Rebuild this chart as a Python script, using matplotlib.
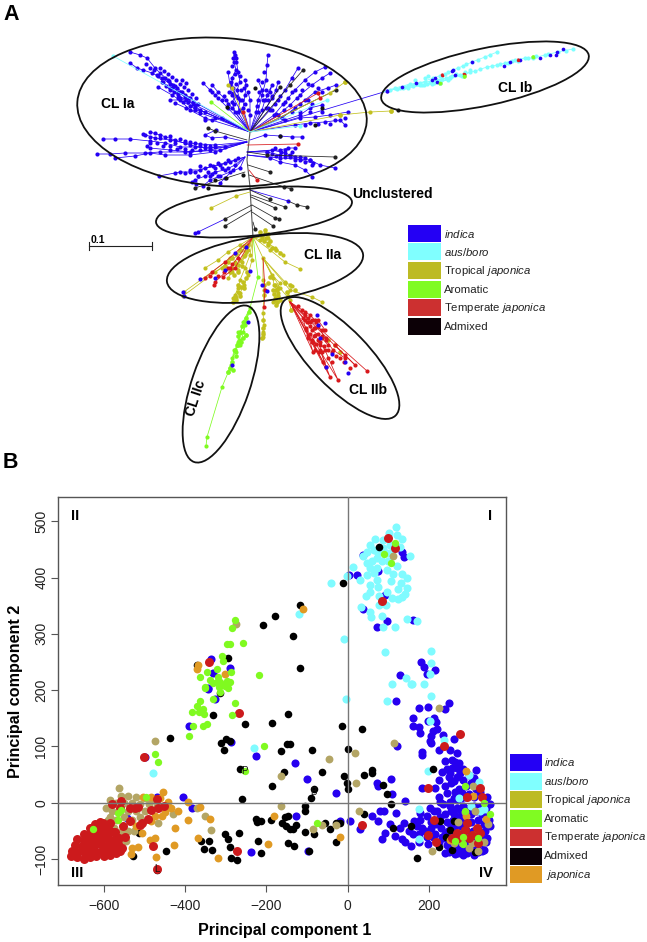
import matplotlib
matplotlib.use("Agg")
import matplotlib.pyplot as plt
from matplotlib.patches import Ellipse, Rectangle

plt.rcParams['font.family'] = ['Liberation Sans', 'DejaVu Sans']
plt.rcParams['mathtext.fontset'] = 'custom'
plt.rcParams['mathtext.rm'] = 'Liberation Sans'
plt.rcParams['mathtext.it'] = 'Liberation Sans:italic'

# colours
c_blue = '#2400f4'
c_cyan = '#80ffff'
c_yellow = '#c2c01e'
c_lime = '#7ffb20'
c_red = '#d8181c'

# ---- panel A: tree in image pixels ----
trunk = [(250, 132), (248, 150), (247, 160), (250, 187), (251, 205), (253, 237)]

tree_blue = [
    [(250,132),(198,104),(190,98),(182,92),(175,86),(168,80),(160,73),(155,68),(147,58),(140,55),(130,52)],
    [(250,132),(195,105),(185,97),(178,92),(170,84),(162,78),(152,73),(143,70),(137,68),(130,63)],
    [(250,132),(200,110),(193,104),(186,100),(178,95),(170,90),(163,82),(157,75)],
    [(250,132),(205,112),(195,110),(188,102),(180,98),(172,88)],
    [(250,132),(195,108),(183,102),(172,95),(158,87)],
    [(250,132),(205,118),(190,110),(180,100),(170,100)],
    [(250,132),(215,118),(200,113),(186,108),(175,103)],
    [(250,132),(228,108),(218,98),(210,90),(203,83)],
    [(250,132),(232,108),(226,100),(218,92),(212,85)],
    [(250,132),(222,118),(212,120),(205,120)],
    [(250,132),(235,112),(232,102),(236,96),(233,88),(232,78),(236,70),(234,62),(234,52)],
    [(250,132),(238,112),(240,100),(237,90),(240,82),(238,72),(236,58),(235,55)],
    [(250,132),(240,110),(232,95),(230,85),(228,72)],
    [(250,132),(243,108),(245,95),(246,85),(245,80)],
    [(250,132),(250,115),(250,100),(248,92)],
    [(250,132),(258,112),(262,95),(266,80),(267,65),(268,55)],
    [(250,132),(256,112),(258,100),(262,90),(258,80)],
    [(250,132),(262,110),(265,100),(270,92),(272,85),(267,95)],
    [(250,132),(266,108),(272,98),(276,90),(278,82)],
    [(250,132),(270,110),(278,100),(285,90),(292,78),(298,68)],
    [(250,132),(274,115),(285,102),(295,90),(305,80),(315,72),(325,67)],
    [(250,132),(278,115),(290,105),(300,95),(312,85),(322,78),(330,73)],
    [(250,132),(282,118),(295,108),(305,100),(315,92),(328,88),(336,85)],
    [(250,132),(285,120),(300,115),(310,108),(322,105)],
    [(250,132),(295,125),(310,123),(325,122),(340,120),(345,125)],
    [(250,132),(300,118),(315,117),(330,115),(348,112)],
    [(250,132),(387,91)],
    [(247,142),(225,147),(205,148),(190,145),(175,140),(160,135),(150,132)],
    [(247,142),(215,145),(200,144),(185,143),(170,140),(155,138),(143,134)],
    [(247,142),(210,148),(195,147),(180,147),(165,143),(150,141),(130,139),(115,139),(103,139)],
    [(247,142),(220,150),(190,152),(170,150),(150,148),(147,146)],
    [(247,142),(210,150),(185,152),(160,152),(145,153),(125,153),(110,154),(97,154)],
    [(247,142),(215,152),(190,155),(165,155),(150,153),(135,156),(115,158)],
    [(247,142),(225,137),(212,138),(205,135),(216,130)],
    [(245,157),(230,162),(220,165),(205,168),(195,172),(180,172),(175,173),(159,176)],
    [(245,157),(235,160),(225,163),(213,166),(200,170),(190,170)],
    [(245,157),(235,165),(225,170),(215,172),(205,176),(195,180),(192,182)],
    [(245,157),(240,168),(230,172),(220,176),(210,180),(203,186)],
    [(245,157),(233,170),(225,178),(220,183)],
    [(250,140),(265,135),(280,136),(292,137),(302,137)],
    [(247,152),(267,152),(280,155),(290,157),(300,160),(313,163)],
    [(247,152),(272,150),(285,153),(295,157),(305,158)],
    [(247,155),(270,158),(280,162),(295,165),(305,170),(312,177)],
    [(247,152),(280,150),(288,148),(295,148)],
    [(247,155),(280,158),(310,160),(320,165),(335,168)],
    [(250,190),(288,201)],
    [(225,219),(198,232),(195,233)],
]
tree_black = [
    [(250,132),(290,85),(303,70)],
    [(250,132),(280,87)],
    [(250,132),(336,90)],
    [(247,140),(215,131),(208,128)],
    [(247,152),(267,155),(335,157)],
    [(248,165),(270,172)],
    [(249,175),(284,187),(291,189)],
    [(245,172),(195,188)],
    [(250,190),(270,199)],
    [(251,195),(285,207)],
    [(251,197),(275,208)],
    [(288,201),(297,205),(307,207)],
    [(252,205),(275,218),(279,219)],
    [(252,212),(273,226)],
    [(253,222),(255,229)],
    [(252,210),(225,226)],
    [(252,205),(225,219)],
]
tree_yellow = [
    [(250,132),(330,93),(345,82)],
    [(250,132),(340,115),(370,112),(391,111)],
    [(250,192),(236,196),(211,208)],
    [(250,132),(232,88),(228,85)],
    [(253,237),(240,245),(228,252),(218,260),(205,268)],
    [(253,237),(240,250),(230,258),(222,268),(215,272)],
    [(253,237),(245,255),(238,265),(232,272),(228,278)],
    [(253,237),(248,250),(242,262),(238,270),(235,262)],
    [(253,237),(250,255),(245,268),(240,280),(238,288),(235,295),(233,298)],
    [(253,237),(252,260),(248,275),(244,285),(240,293),(236,298)],
    [(253,237),(260,240),(268,243),(275,248),(283,255)],
    [(253,237),(262,238),(265,233),(268,238)],
    [(253,237),(270,250),(285,262),(300,269)],
    [(253,237),(263,258),(272,275),(280,283),(276,290),(275,298),(277,302)],
    [(263,258),(273,278),(274,285),(278,293),(273,302)],
    [(263,258),(285,282),(292,286),(288,296)],
    [(263,258),(290,290),(312,297),(322,302)],
    [(263,258),(280,288),(290,300)],
    [(263,258),(263,280),(264,290),(263,313),(264,325),(263,332),(263,337)],
    [(289,300),(291,310)],
    [(245,248),(184,292)],
    [(245,250),(183,296)],
]
tree_red = [
    [(250,132),(318,93),(320,98)],
    [(250,132),(243,112)],
    [(247,145),(298,144)],
    [(249,170),(257,180)],
    [(253,237),(230,268),(215,282),(214,285)],
    [(253,237),(225,262),(212,272),(205,278)],
    [(253,237),(235,268),(223,277)],
    [(263,258),(265,290),(264,307)],
    [(290,302),(367,371)],
    [(290,302),(355,365),(345,355),(335,345)],
    [(290,302),(338,380),(325,350),(315,335)],
    [(290,302),(330,377),(320,350)],
    [(290,302),(326,367),(318,340)],
    [(290,302),(323,362),(312,340)],
    [(290,302),(313,352),(308,335)],
    [(290,302),(305,315),(310,322),(318,320),(325,330),(315,328)],
    [(290,302),(307,322),(312,330),(322,338),(328,345)],
    [(290,302),(303,318),(306,330),(313,342),(320,345)],
    [(290,302),(310,315),(315,320),(326,340),(333,350),(345,358)],
]
tree_lime = [
    [(253,237),(258,277),(250,308),(240,333),(230,368),(222,387),(207,437),(206,446)],
    [(250,308),(245,325),(243,332),(246,335),(240,340),(238,332)],
    [(250,308),(243,322),(238,342),(236,352),(232,358)],
    [(250,308),(240,345),(234,350),(231,365),(228,372)],
    [(250,132),(211,102)],
]
tree_cyan = [
    [(250,132),(113,56)],
    [(250,132),(327,100)],
    [(250,132),(300,126)],
    [(383,92),(395,88),(410,84),(420,83),(433,78),(445,74),(453,70),(463,66),(472,62),(485,57),(497,52)],
    [(383,92),(400,88),(415,84),(425,82),(440,80),(450,77),(460,75),(475,71),(487,67),(497,65),(505,63),(515,60),(525,58),(533,58),(545,55),(558,52),(573,49)],
    [(383,92),(405,87),(420,85),(432,84),(440,83),(450,78),(462,76),(470,72)],
    [(395,90),(408,88),(424,85),(435,82),(448,80)],
]

# dense clumps on the branches, no lines of their own
blob_blue = [(160,68),(164,71),(168,74),(172,77),(176,80),(180,84),(184,87),(188,90),(192,94),(196,98),
    (165,78),(169,81),(173,85),(177,88),(181,92),(185,95),(189,98),(193,102),(158,76),(162,82),
    (166,86),(170,88),(174,92),(178,98),(150,68),(146,64),(154,70),(182,80),(186,83),(190,106),
    (145,135),(150,137),(155,133),(160,138),(165,137),(170,136),(175,143),(180,139),(185,141),(190,142),
    (195,143),(200,146),(205,145),(210,146),(215,147),(150,143),(157,143),(163,146),(170,146),(177,149),
    (185,149),(192,150),(200,150),
    (233,58),(236,62),(232,66),(235,74),(231,82),(236,84),(233,93),(238,98),(234,104),(229,92),
    (224,96),(240,76),(241,90),(242,100),(228,104),(222,100),(215,95),(212,92),(245,104),(248,110),(244,88),
    (264,72),(262,82),(259,92),(263,100),(257,106),(268,100),(272,96),(266,90),(275,104),(268,108),
    (280,96),(283,104),(272,110),(288,98),(292,92),(276,114),(297,98),(302,90),(308,84),(300,104),
    (308,100),(284,110),(292,112),(318,88),(322,92),(312,104),(300,112),(310,112),(322,112),(335,120),
    (330,124),(318,124),(305,125),(345,118),
    (200,166),(210,165),(218,163),(228,160),(238,158),(208,172),(215,168),(222,168),(190,172),(198,176),
    (185,173),(210,176),(218,176),(228,168),(196,184),(212,174),
    (267,152),(272,154),(276,156),(281,152),(285,157),(290,155),(295,160),(300,157),(305,162),(310,160),
    (285,150),(292,152),(275,148),(312,165)]
blob_cyan = [(390,90),(397,89),(403,88),(408,86),(413,86),(418,84),(422,85),(427,84),(430,82),(434,83),
    (437,80),(442,79),(446,78),(452,76),(456,74),(465,72),(470,70),(480,69),(492,66),(500,64),
    (508,63),(512,61),(518,61),(528,58),(536,56),(548,54),(566,51),(415,80),(425,78),(428,76),
    (440,76),(448,72),(458,68),(466,64),(478,60),(490,55)]
blob_blue_ib = [(387,91),(402,87),(416,83),(432,80),(435,78),(453,70),(472,62),(455,75),(504,66),(510,62),
    (540,58),(550,55),(556,55),(557,52),(563,49),(437,82),(452,71),(520,60)]
blob_blue_ii = [(183,292),(184,296),(200,279),(235,253),(246,247),(225,270),(215,278),(267,291),(262,285),(250,271),
    (317,315),(325,323),(318,325),(320,338),(332,354),(326,367),(348,373),(345,362),(248,322),(232,365)]
blob_yellow = [(225,266),(228,262),(232,258),(236,254),(240,250),(244,246),(232,268),(236,264),(240,260),(244,256),
    (230,272),(234,275),(238,272),(246,252),(242,266),(248,245),
    (246,278),(243,282),(241,287),(238,292),(235,297),(244,288),(240,296),(236,300),(238,285),(247,272),(233,302),
    (262,236),(266,238),(270,241),(268,245),(272,248),(276,250),(280,253),(264,241),(260,232),(265,230),(268,234),
    (275,285),(277,290),(274,294),(278,296),(275,300),(276,305),(278,288),(280,300),(273,290),(277,302),
    (285,283),(290,285),(295,290),(287,292),(263,320),(263,328),(263,334),(262,338),(264,285),(264,295),
    (270,277),(268,283),(291,310),(345,82),(391,111),(340,115),(335,345),(340,352),(328,340)]
blob_red = [(305,320),(308,318),(312,320),(316,322),(310,326),(314,328),(318,326),(322,330),(306,328),(310,334),
    (314,336),(318,334),(322,336),(326,338),(312,342),(316,344),(320,342),(324,346),(328,350),(332,352),
    (336,356),(340,358),(344,362),(350,368),(308,338),(315,350),(319,352),(322,352),(328,358),(332,362),
    (298,306),(302,310),(305,312),(218,276),(224,272),(232,264),(238,258),(210,276),(228,268),(442,75),(464,74),(518,60)]
blob_lime = [(249,312),(246,318),(244,322),(242,326),(240,332),(243,338),(246,335),(238,336),(241,342),(237,345),
    (235,350),(236,356),(232,362),(230,368),(228,372),(233,370),(238,345),(440,83),(533,57),(464,76)]
blob_black = [(398,110),(227,107),(255,88),(280,136),(315,125),(322,108),(243,175),(226,178),(215,180),(208,188)]

# cluster ellipses: centre x, centre y, long, short, angle
ell_cx = [222, 485, 254, 265, 221, 340]
ell_cy = [112, 77, 212, 268, 384, 358]
ell_w = [290, 212, 197, 198, 165, 160]
ell_h = [148, 57, 47, 65, 58, 58]
ell_ang = [4, -12, -6, -8, -71, 46]

legend_a = ['$\\mathit{indica}$', '$\\mathit{aus/boro}$', 'Tropical $\\mathit{japonica}$', 'Aromatic',
            'Temperate $\\mathit{japonica}$', 'Admixed']
legend_colors = ['#2400f4', '#80ffff', '#bdbb24', '#80fb22', '#cc3030', '#0c0006']

# ---- panel B: PCA scores ----
pc_blue = [(120,181),(175,169),(198,170),(241,167),(249,178),(162,150),(161,137),(175,134),(179,124),(197,146),
    (213,150),(217,144),(220,131),(210,127),(205,119),(236,121),(202,109),(205,106),(261,114),(121,101),
    (183,91),(183,84),(225,93),(253,93),(269,88),(257,76),(265,73),(244,60),(269,61),(253,53),
    (277,53),(317,59),(310,44),(224,41),(261,38),(285,41),(182,26),(216,26),(73,35),(74,29),
    (106,43),(109,15),(142,4),(81,-14),(90,-15),(120,-19),(59,-24),(5,-33),(76,-32),(31,-46),
    (105,-37),(92,-53),(85,-65),(117,-59),(133,-64),(142,-70),(156,-76),(198,-73),(138,-36),(129,-45),
    (164,-33),(179,-30),(172,-41),(183,-45),(202,-9),(179,-18),(195,-24),(212,-15),(226,11),(244,17),
    (265,20),(228,2),(236,-3),(253,2),(269,5),(281,17),(310,11),(326,20),(343,11),(351,-3),
    (347,-30),(351,-42),(343,-63),(335,-83),(310,-92),(285,-92),(265,-91),(240,-89),
    (240,-20),(255,-15),(270,-10),(285,-5),(300,-10),(315,-15),(330,-20),(340,-10),(245,-35),(260,-30),
    (275,-25),(290,-30),(305,-35),(320,-30),(335,-38),(230,-45),(248,-50),(262,-45),(278,-42),(292,-48),
    (308,-50),(322,-45),(338,-50),(215,-55),(232,-60),(250,-62),(265,-58),(280,-55),(295,-62),(310,-65),
    (328,-60),(340,-70),(225,-70),(245,-75),(258,-72),(272,-78),(288,-75),(302,-80),(318,-78),(332,-72),
    (250,-88),(272,-90),(295,-90),(320,-88),(205,-35),(190,-50),(175,-55),(160,-55),(150,-50),(220,-15),
    (205,-45),(195,-60),(175,-70),(210,-60),(300,15),(315,25),(290,10),(275,25),(255,35),(240,30),
    (290,-20),(305,-20),(270,-35),(285,-65),
    (252,-5),(262,-20),(278,-15),(295,-15),(312,-5),(325,-8),(342,-25),(228,-25),(218,-38),(240,-55),
    (255,-42),(268,-68),(282,-85),(300,-70),(315,-55),(330,-85),(238,-62),(252,-80),(262,8),(278,8),
    (292,30),(305,35),(270,45),(285,60),(300,50),(258,62),(240,75),(250,45),(232,55),(275,70),
    (23,404),(4,404),(134,446),(139,436),(37,440),(76,411),(92,369),(39,344),(72,313),(98,322),
    (162,324),(180,250),(187,242),(214,236),(195,229),(128,227),
    (-336,255),(-290,240),(-332,230),(-343,204),(-343,202),(-327,184),(-391,137),(-288,108),(-226,83),(-129,70),
    (-101,43),(-28,18),(-405,11),(-470,11),(-384,-9),(-128,-24),(-238,-88),(-97,-85),(-499,81),(-19,-33),(-544,-27)]
pc_cyan = [(118,489),(102,479),(121,476),(134,468),(67,468),(55,457),(88,467),(105,458),(130,455),(47,446),
    (64,449),(39,438),(96,444),(154,439),(72,435),(47,425),(84,429),(121,421),(55,417),(96,414),
    (64,408),(13,419),(-2,403),(47,405),(31,396),(111,407),(134,407),(72,396),(106,393),(146,400),
    (132,390),(147,382),(76,384),(54,387),(123,380),(55,375),(46,367),(97,375),(142,371),(134,365),
    (109,364),(125,362),(78,368),(95,352),(78,352),(32,348),(55,338),(57,330),(85,332),(147,326),
    (170,322),(86,313),(116,313),(-42,390),(-119,335),(-10,290),(92,267),(205,270),(206,248),(203,229),
    (145,222),(110,211),(158,211),(187,211),(88,452),(76,444),(113,449),(60,429),(72,417),(100,430),
    (-231,98),(-479,53),(157,211),(205,189),(97,181),(-4,185),(203,146),(238,112),(198,57),(300,50),
    (324,37),(275,9),(304,-6),(326,-15),(336,-11),(175,-11),(177,-64)]
pc_black = [(-437,115),(-331,156),(-253,140),(-185,142),(-146,158),(-299,113),(-290,109),(-312,106),(-304,94),(-150,104),
    (-142,104),(-164,92),(-87,94),(-14,137),(-265,60),(-156,55),(-63,54),(-185,30),(-83,24),(-91,8),
    (-259,7),(-105,-6),(-105,-14),(-226,-28),(-224,-35),(-212,-33),(-189,-31),(-154,-25),(-146,-24),(-162,-36),
    (-152,-42),(-142,-46),(-127,-39),(-134,-46),(-55,-36),(-43,-46),(-28,-36),(-105,-52),(-83,-56),(-29,-69),
    (-267,-54),(-302,-55),(-295,-64),(-361,-68),(-342,-68),(-290,-78),(-353,-82),(-334,-84),(-220,-68),(-146,-71),
    (-131,-76),(-213,-89),(-94,-85),(-286,-98),(-273,-101),(-448,-86),(-528,-94),(-514,-54),(-469,-119),
    (35,131),(2,96),(61,59),(61,53),(41,50),(-10,47),(-2,35),(2,24),(87,31),(97,15),
    (106,-3),(41,-20),(-18,-36),(111,-44),(156,-41),(228,-32),(261,-33),(253,-48),(243,-61),(224,-78),
    (257,-83),(313,-87),(171,-98),(210,60),(78,455),(-12,390),(-118,352),(-178,332),(-209,316),(-134,296),
    (-295,257),(-116,239),(-372,245),(-314,195)]
pc_tan = [(-473,109),(-564,26),(-164,47),(-46,78),(-164,-5),(-351,-24),(-336,-48),(-372,-9),(-429,-20),(-468,-36),
    (-84,-47),(-62,-39),(-29,-40),(-557,12),(-540,12),(-520,10),(-500,8),(-480,5),(-570,0),(-550,0),
    (-530,0),(-510,-2),(-490,-3),(-470,-5),(-580,-15),(-560,-15),(-540,-15),(-520,-15),(-500,-15),(-590,-30),
    (-570,-30),(-550,-25),(-530,-30),(-510,-25),(-585,-25),(-575,-45),(-555,-50),(-540,-50),(-565,-60),(-545,-68),
    (-555,-70),(-525,-50),(-595,-10),(-585,5),
    (-275,318),(112,438),(225,169),(115,106),(18,88),(21,35),(28,-14),(207,-85),(309,30),(314,-14),
    (290,-17),(273,-34),(345,-38),(261,-72),(298,-80),(322,-85),(306,-72),(335,-70),(281,-72)]
pc_orange = [(-454,20),(-442,2),(-392,2),(-462,8),(-484,10),(-503,11),(-364,-8),(-339,-28),(-392,-31),(-417,-14),
    (-436,-9),(-458,-24),(-474,-24),(-450,-17),(-483,-33),(-426,-44),(-520,-41),(-505,-53),(-368,-62),(-473,-62),
    (-487,-66),(-427,-75),(-515,-78),(-532,-81),(-534,-91),(-471,-96),(-319,-98),(-196,-73),(-180,-23),
    (-109,344),(-368,245),(-302,229),(-372,237),(292,56),(308,12),(340,-28),(292,-24),(-18,-60),(253,-66),(318,-51)]
pc_red = [(99,470),(117,452),(85,359),(-341,250),(-267,159),(-501,81),(-272,-86),(-469,-118),(-478,-76),
    (-581,-3),(-557,3),(-561,-9),(-536,-9),(-524,-9),(-515,-8),(-470,7),(-483,-12),(-466,-9),(-452,-6),
    (-491,-28),(-507,-36),(-536,-33),(-552,-42),(-573,-51),(-548,-60),(-511,-39),(-585,-36),(-602,-36),
    (-680,-95),(-665,-97),(-650,-99),(-635,-97),(-620,-95),(-600,-95),(-585,-93),(-570,-90),
    (-678,-85),(-665,-87),(-650,-88),(-635,-86),(-620,-87),(-605,-85),(-590,-85),(-575,-84),(-560,-85),(-555,-80),
    (-670,-75),(-655,-76),(-640,-75),(-625,-76),(-610,-74),(-595,-76),(-580,-74),(-565,-73),
    (-665,-65),(-650,-66),(-635,-64),(-620,-66),(-605,-65),(-590,-64),(-575,-66),(-562,-62),
    (-650,-55),(-635,-55),(-620,-54),(-605,-56),(-590,-55),(-578,-52),
    (-635,-45),(-620,-44),(-605,-46),(-590,-44),(-610,-34),(-622,-38),
    (276,123),(237,100),(199,26),(327,26),(295,11),(332,11),(213,-30),(35,-40),(199,-57),(218,-70),
    (294,-36),(269,-53),(290,-48),(306,-57),(327,-54),(321,-72),(298,-63),(257,-63),(318,-45),(277,-63)]
pc_green = [(-351,204),(-363,180),(-332,184),(-276,178),(-372,171),(-383,162),(-365,162),(-355,166),(-354,158),(-285,155),
    (-380,136),(-347,140),(-355,136),(-391,118),(-207,100),(-474,86),(-466,72),(-497,11),(-558,-12),(-566,-18),
    (-566,-31),(-628,-46),(-253,56),(-76,-36),(-276,325),(-284,310),(-298,282),(-290,282),(-257,284),(-310,260),
    (-306,251),(-321,237),(-347,232),(-363,223),(-288,232),(-218,227),(-339,218),(-331,213),(-318,224),(-314,214),
    (-298,216),(-290,214),(-351,205),(-316,205),(-302,207),(-322,215),(-310,210),(-294,214),(-294,204),(-314,196),
    (117,462),(90,441),(108,425),(288,30),(335,-1),(351,-20),(290,-15),(285,-60),(265,-67),(283,-73),(322,-63)]

xticks = [-600, -400, -200, 0, 200]
yticks = [-100, 0, 100, 200, 300, 400, 500]
legend_b = legend_a + [' $\\mathit{japonica}$']
legend_b_colors = legend_colors + ['#e09a24']


def draw_tree(ax, branches, color, z):
    for br in branches:
        xs = [p[0] for p in br]
        ys = [p[1] for p in br]
        ax.plot(xs, ys, color=color, lw=0.55, zorder=z, solid_capstyle='round')
        ax.scatter(xs[1:], ys[1:], s=9, color=color, lw=0, zorder=z + 0.1)


def draw_blob(ax, pts, color, z, size=9):
    ax.scatter([p[0] for p in pts], [p[1] for p in pts], s=size, color=color, lw=0, zorder=z)


W, H = 647, 942
fig = plt.figure(figsize=(W / 100, H / 100), dpi=100)

# whole-figure axes in image pixels for panel A and the letters
a = fig.add_axes([0, 0, 1, 1])
a.set_xlim(0, W)
a.set_ylim(H, 0)
a.axis('off')

a.plot([p[0] for p in trunk], [p[1] for p in trunk], color='#555555', lw=0.8, zorder=1)
draw_tree(a, tree_blue, c_blue, 2)
draw_blob(a, blob_blue, c_blue, 2.1)
draw_tree(a, tree_black, '#222222', 2.2)
draw_blob(a, blob_black, '#111111', 2.3)
draw_tree(a, tree_yellow, c_yellow, 2.4)
draw_blob(a, blob_yellow, c_yellow, 2.5, size=11)
draw_tree(a, tree_red, c_red, 2.6)
draw_blob(a, blob_red, c_red, 2.7)
draw_tree(a, tree_lime, c_lime, 2.8)
draw_blob(a, blob_lime, c_lime, 2.9, size=11)
draw_tree(a, tree_cyan, c_cyan, 3)
draw_blob(a, blob_cyan, c_cyan, 3.1)
draw_blob(a, blob_blue_ib, c_blue, 3.2, size=7)
draw_blob(a, blob_blue_ii, c_blue, 3.2)
draw_blob(a, blob_red[-3:], c_red, 3.3, size=6)
draw_blob(a, blob_lime[-3:], c_lime, 3.3, size=7)

for cx, cy, w, h, ang in zip(ell_cx, ell_cy, ell_w, ell_h, ell_ang):
    a.add_patch(Ellipse((cx, cy), w, h, angle=ang, fill=False, ec='#111111', lw=1.3, zorder=5))

a.text(3, 14, 'A', fontsize=15.5, fontweight='bold', va='center')
a.text(3, 463, 'B', fontsize=15.5, fontweight='bold', va='center')
a.text(118, 104, 'CL Ia', fontsize=10, fontweight='bold', ha='center', va='center')
a.text(515, 88, 'CL Ib', fontsize=10, fontweight='bold', ha='center', va='center')
a.text(392, 194, 'Unclustered', fontsize=10, fontweight='bold', ha='center', va='center')
a.text(323, 255, 'CL IIa', fontsize=10, fontweight='bold', ha='center', va='center')
a.text(368, 390, 'CL IIb', fontsize=10, fontweight='bold', ha='center', va='center')
a.text(196, 398, 'CL IIc', fontsize=10, fontweight='bold', ha='center', va='center', rotation=72)

# scale bar
a.plot([89, 152], [246, 246], color='#222222', lw=0.8)
a.plot([89, 89], [242, 250], color='#222222', lw=0.8)
a.plot([152, 152], [242, 250], color='#222222', lw=0.8)
a.text(98, 240, '0.1', fontsize=7.5, fontweight='bold', ha='center', va='center')

# legends
for i, (lab, col) in enumerate(zip(legend_a, legend_colors)):
    y0 = 224.5 + i * 18.7
    a.add_patch(Rectangle((408, y0), 33, 17, fc=col, ec='none'))
    a.text(444, y0 + 9, lab, fontsize=8.2, va='center', color='#222222')
for i, (lab, col) in enumerate(zip(legend_b, legend_b_colors)):
    y0 = 754 + i * 18.7
    a.add_patch(Rectangle((510, y0), 32, 17, fc=col, ec='none'))
    a.text(544, y0 + 8.5, lab, fontsize=8.2, va='center', color='#222222')

# panel B: real data axes
ax = fig.add_axes([58 / W, 1 - 885 / H, 448 / W, 388 / H])
ax.set_xlim(-713, 390)
ax.set_ylim(-146, 543)
ax.patch.set_alpha(0)

groups = [(pc_blue, '#2600f0', 34), (pc_cyan, '#80fbff', 34), (pc_black, '#000000', 30), (pc_tan, '#b3a565', 32),
          (pc_orange, '#e09a24', 32), (pc_red, '#cc1a1c', 42), (pc_green, '#80fa20', 28)]
for z, (pts, col, size) in enumerate(groups):
    ax.scatter([p[0] for p in pts], [p[1] for p in pts], s=size, color=col, lw=0, zorder=3 + z)

ax.axhline(0, color='#777777', lw=1, zorder=12)
ax.axvline(0, color='#777777', lw=1, zorder=12)
ax.text(-253, 57, 'P', fontsize=7, color='#111111', ha='center', va='center', zorder=13)
ax.text(-83, 20, 'B', fontsize=7, color='#111111', ha='center', va='center', zorder=13)
ax.text(-470, -118, 'L', fontsize=7, color='#111111', ha='center', va='center', zorder=13)

ax.set_xticks(xticks)
ax.set_xticklabels([str(t).replace('-', '\u2212') for t in xticks])
ax.set_yticks(yticks)
ax.set_yticklabels([str(t).replace('-', '\u2212') for t in yticks], rotation=90, va='center')
ax.tick_params(labelsize=10, length=5, width=0.8, color='#555555', labelcolor='#222222', pad=2)
ax.tick_params(axis='x', pad=5)
for sp in ax.spines.values():
    sp.set_color('#555555')
    sp.set_linewidth(1)
ax.set_xlabel('Principal component 1', fontsize=11.6, fontweight='bold', labelpad=7, x=0.506)
ax.set_ylabel('Principal component 2', fontsize=11.6, fontweight='bold', labelpad=8)

ax.text(-672, 510, 'II', fontsize=10.5, fontweight='bold', ha='center', va='center')
ax.text(350, 510, 'I', fontsize=10.5, fontweight='bold', ha='center', va='center')
ax.text(-665, -125, 'III', fontsize=10.5, fontweight='bold', ha='center', va='center')
ax.text(340, -125, 'IV', fontsize=10.5, fontweight='bold', ha='center', va='center')

fig.savefig('out.png', dpi=100)
